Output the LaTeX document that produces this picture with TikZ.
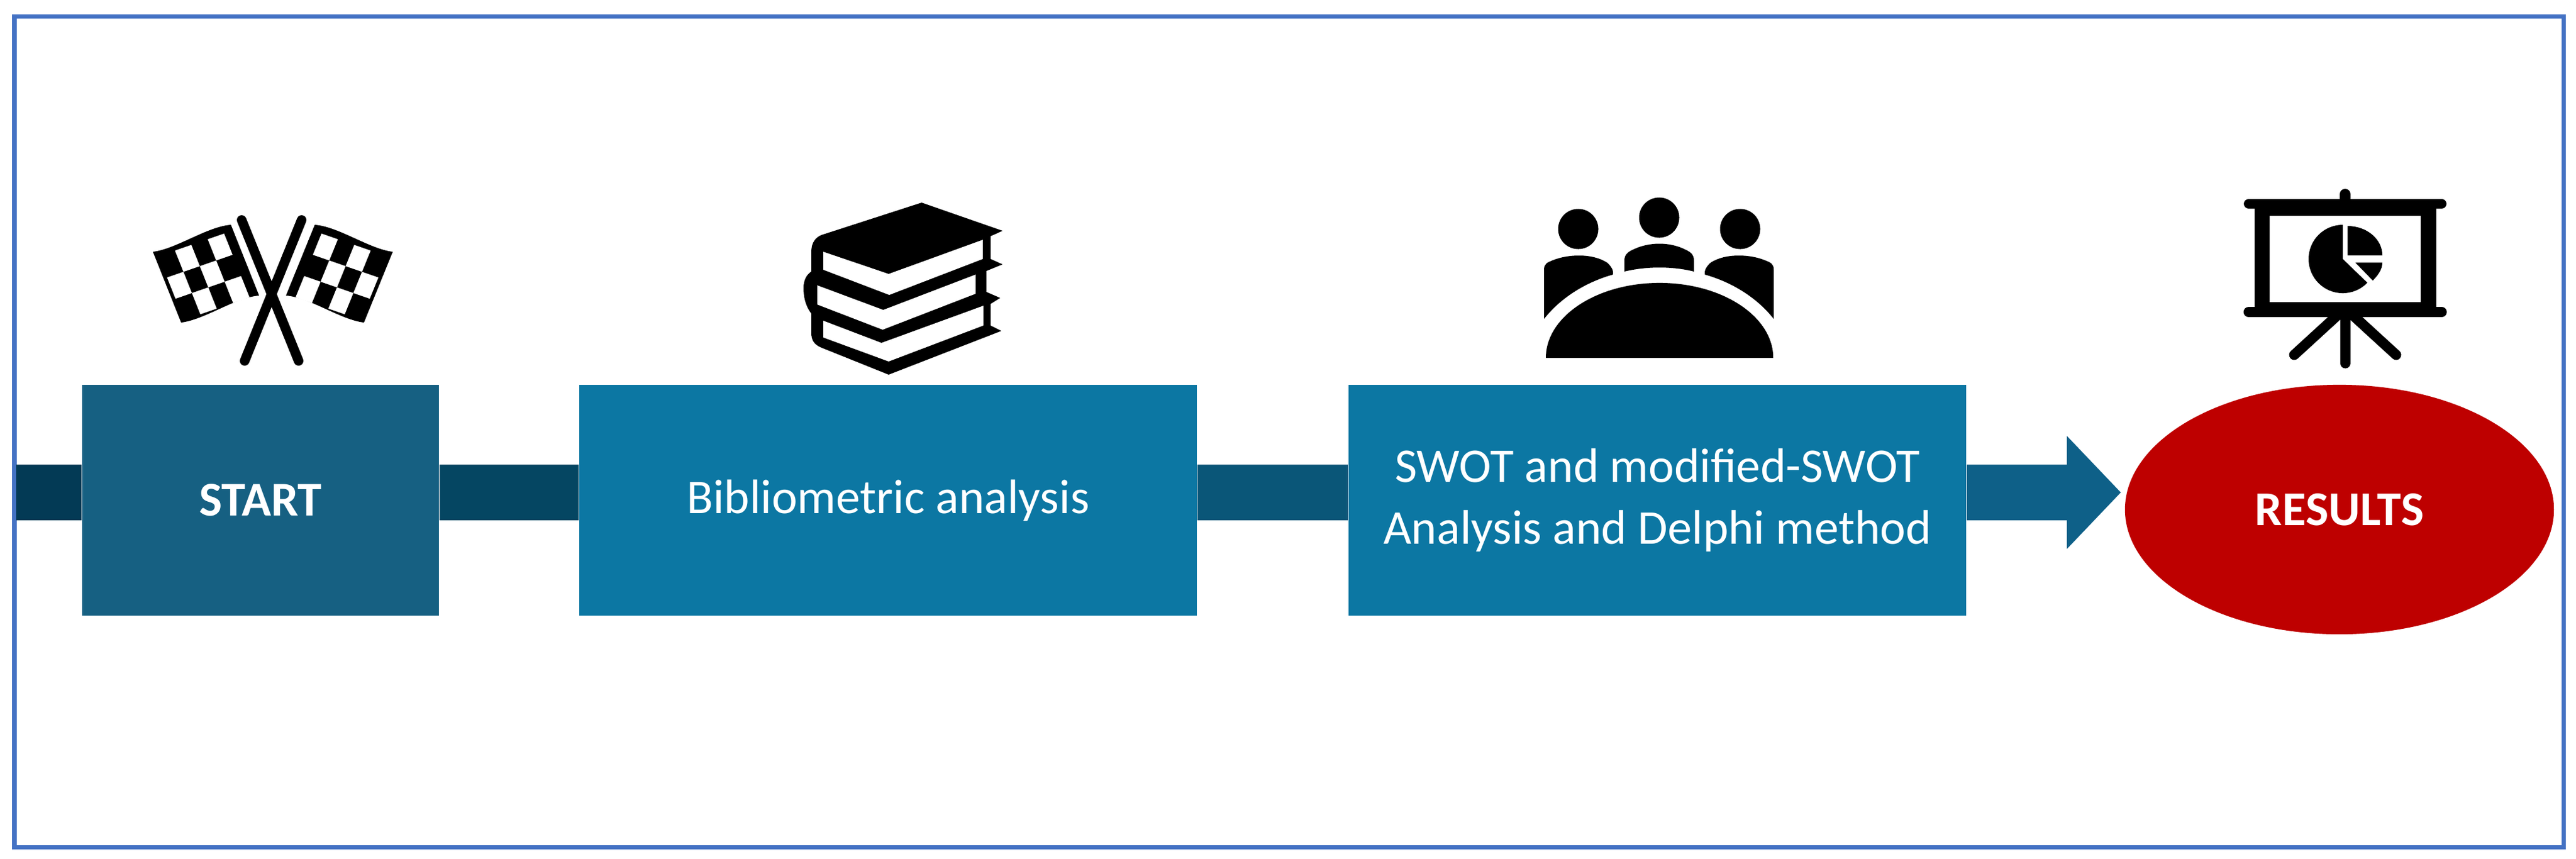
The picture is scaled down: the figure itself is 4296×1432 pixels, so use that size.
\documentclass[tikz,border=0pt]{standalone}
\usepackage{fontspec}
\setmainfont{Carlito}
\usetikzlibrary{positioning, arrows.meta, shapes.geometric}
\definecolor{framecol}{HTML}{4472C4}
\definecolor{startcol}{HTML}{166082}
\definecolor{stepcol}{HTML}{0C77A3}
\definecolor{rescol}{HTML}{BE0000}
\definecolor{bandA}{HTML}{033A55}
\definecolor{bandB}{HTML}{054662}
\definecolor{bandC}{HTML}{0A5678}
\definecolor{bandD}{HTML}{0E6088}
\tikzset{
  box/.style={rectangle, inner sep=0pt, text=white, align=center, font=\fontsize{23}{29.5}\selectfont, minimum height=3.85cm},
  band/.style={line width=.92cm},
  leg/.style={line width=.17cm, line cap=round},
  pole/.style={line width=.16cm, line cap=round},
}
\begin{document}
\begin{tikzpicture}[x=.01cm,y=-.01cm,node distance=2.32cm]
  \useasboundingbox (0,0) rectangle (4296,1432);
  \fill[white] (0,0) rectangle (4296,1432);
  \draw[framecol, line width=.07cm] (24,27) rectangle (4275.5,1413.5);

  \coordinate (bandl) at (27,821.5);
  \coordinate (tip) at (3537,821.5);
  \node[box, fill=startcol, minimum width=5.95cm, font=\fontsize{23}{29.5}\selectfont\bfseries] (start) at (434.5,834.5) {START};
  \node[box, fill=stepcol, minimum width=10.3cm] (biblio) [right=of start] {Bibliometric analysis};
  \node[box, fill=stepcol, minimum width=10.3cm] (swot) [right=2.51cm of biblio] {SWOT and modified-SWOT\\Analysis and Delphi method};
  \node[ellipse, fill=rescol, text=white, inner sep=0pt, minimum width=7.15cm, minimum height=4.16cm, font=\fontsize{23}{29.5}\selectfont\bfseries] (results) at (3901.5,850) {RESULTS};

  \draw[band, bandA] (bandl) -- (start.west |- bandl);
  \draw[band, bandB] (start.east |- bandl) -- (biblio.west |- bandl);
  \draw[band, bandC] (biblio.east |- bandl) -- (swot.west |- bandl);
  \draw[band, bandD, -{Triangle[length=.9cm,width=1.83cm]}] (swot.east |- bandl) -- (tip);

  \draw[pole] (403,367) -- (498,602);
  \draw[pole] (503,367) -- (408,602);
  \foreach \ax/\ux/\vx in {255/1.30/.47, 655/-1.30/-.48} {
    \begin{scope}[shift={(\ax,420)}, x={(\ux cm,.45cm)}, y={(\vx cm,-1.18cm)}]
      \fill (0,0) .. controls (.28,.066) and (.72,-.08) .. (1,0) -- (1,1)
        .. controls (.72,.92) and (.28,1.066) .. (0,1) -- cycle;
      \foreach \i in {0,1,2,3} \foreach \j in {0,1,2} {
        \pgfmathparse{int(mod(\i+\j,2))}
        \ifnum\pgfmathresult=1
          \fill[white] (.044+.21*\i,.08+.3*\j) -- ++(.21,0) -- ++(0,.3) -- ++(-.21,0) -- cycle;
        \fi
      }
    \end{scope}
  }

  \fill (1537,338) -- (1672,385) -- (1652,394) -- (1652,432) -- (1672,441) -- (1645,452) -- (1645,487)
    -- (1668,497) -- (1652,507) -- (1652,543) -- (1670,552) -- (1482,625) -- (1370,580)
    .. controls (1358,575) and (1353,568) .. (1353,555) -- (1353,523)
    .. controls (1343,510) and (1340,495) .. (1340,480) .. controls (1340,468) and (1345,458) .. (1353,453)
    -- (1353,420) .. controls (1353,405) and (1360,396) .. (1370,392) -- cycle;
  \fill[white] (1373,420) -- (1482,457) -- (1639,400) -- (1639,432) -- (1483,492) -- (1373,450) -- cycle;
  \fill[white] (1363,476) -- (1473,517) -- (1627,458) -- (1627,490) -- (1472,550) -- (1363,508) -- cycle;
  \fill[white] (1373,535) -- (1470,572) -- (1640,510) -- (1640,543) -- (1482,603) -- (1373,563) -- cycle;

  \fill (2632,382) circle [radius=.335cm];
  \fill (2767,363) circle [radius=.335cm];
  \fill (2902,382) circle [radius=.335cm];
  \fill (2578,597) arc [start angle=180, end angle=0, x radius=1.895cm, y radius=1.25cm] -- cycle;
  \fill (2575,532) -- (2575,450) .. controls (2575,440) and (2580,438) .. (2590,434)
    .. controls (2615,424) and (2655,422) .. (2680,438) .. controls (2688,445) and (2691,452) .. (2690,458)
    .. controls (2640,472) and (2600,500) .. (2575,532) -- cycle;
  \fill (2958,532) -- (2958,450) .. controls (2958,440) and (2953,438) .. (2943,434)
    .. controls (2918,424) and (2878,422) .. (2853,438) .. controls (2845,445) and (2842,452) .. (2843,458)
    .. controls (2893,472) and (2933,500) .. (2958,532) -- cycle;
  \fill (2709,453) -- (2709,435) .. controls (2709,425) and (2714,421) .. (2722,417)
    .. controls (2750,403) and (2785,403) .. (2812,417) .. controls (2820,421) and (2825,425) .. (2825,435)
    -- (2825,453) .. controls (2790,444) and (2745,444) .. (2709,453) -- cycle;

  \draw[line width=.18cm, line cap=round] (3911,324) -- (3911,340);
  \draw[line width=.16cm, line cap=round] (3750,340) -- (4072,340);
  \draw[line width=.17cm, line cap=round] (3750,520.5) -- (4072,520.5);
  \fill (3760,340) rectangle (3785,520);
  \fill (4037,340) rectangle (4063,520);
  \fill (3760,340) rectangle (4063,360);
  \fill (3760,504) rectangle (4063,520);
  \draw[leg] (3911,525) -- (3911,606);
  \draw[leg] (3897,527) -- (3826,592);
  \draw[leg] (3925,527) -- (3996,592);
  \fill (3907,432) -- (3907,375) arc [start angle=90, end angle=316, radius=.57cm] -- cycle;
  \fill (3915,426) -- (3915,377) arc [start angle=90, end angle=0, x radius=.58cm, y radius=.49cm] -- cycle;
  \fill (3928,438) -- (3973,438) .. controls (3973,450) and (3965,460) .. (3957,468) -- cycle;
\end{tikzpicture}
\end{document}
